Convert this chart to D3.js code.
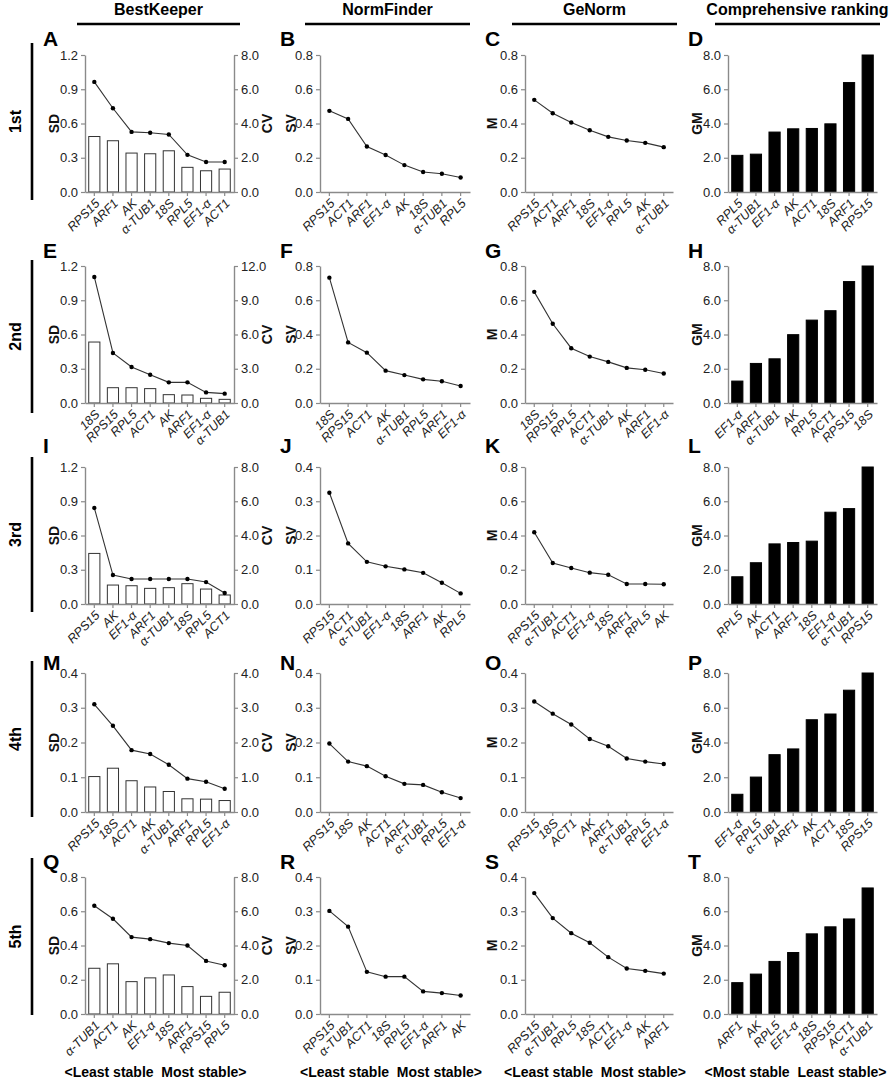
<!DOCTYPE html>
<html>
<head>
<meta charset="utf-8">
<script src="https://cdn.jsdelivr.net/npm/d3@7"></script>
<style>
  body { margin: 0; background: #fff; }
  text { font-family: Arial, "Liberation Sans", sans-serif; }
</style>
</head>
<body>
<svg id="fig"></svg>
<script>
// ---- data ----
// row 1
const genesA = ["RPS15", "ARF1", "AK", "α-TUB1", "18S", "RPL5", "EF1-α", "ACT1"];
const sdA = [0.486, 0.449, 0.341, 0.335, 0.361, 0.216, 0.186, 0.201];
const cvA = [6.43, 4.89, 3.51, 3.46, 3.36, 2.17, 1.75, 1.75];
const genesB = ["RPS15", "ACT1", "ARF1", "EF1-α", "AK", "18S", "α-TUB1", "RPL5"];
const svB = [0.474, 0.427, 0.266, 0.216, 0.157, 0.117, 0.107, 0.085];
const genesC = ["RPS15", "ACT1", "ARF1", "18S", "EF1-α", "RPL5", "AK", "α-TUB1"];
const mC = [0.538, 0.460, 0.406, 0.361, 0.322, 0.301, 0.287, 0.262];
const genesD = ["RPL5", "α-TUB1", "EF1-α", "AK", "ACT1", "18S", "ARF1", "RPS15"];
const gmD = [2.14, 2.21, 3.50, 3.69, 3.71, 3.98, 6.39, 8.0];
// row 2
const genesE = ["18S", "RPS15", "RPL5", "ACT1", "AK", "ARF1", "EF1-α", "α-TUB1"];
const sdE = [0.534, 0.134, 0.134, 0.126, 0.073, 0.070, 0.041, 0.032];
const cvE = [11.04, 4.38, 3.15, 2.48, 1.81, 1.81, 0.93, 0.82];
const genesF = ["18S", "RPS15", "ACT1", "AK", "α-TUB1", "RPL5", "ARF1", "EF1-α"];
const svF = [0.732, 0.354, 0.294, 0.189, 0.163, 0.138, 0.127, 0.099];
const genesG = ["18S", "RPS15", "RPL5", "ACT1", "α-TUB1", "AK", "ARF1", "EF1-α"];
const mG = [0.649, 0.463, 0.320, 0.271, 0.240, 0.205, 0.194, 0.172];
const genesH = ["EF1-α", "ARF1", "α-TUB1", "AK", "RPL5", "ACT1", "RPS15", "18S"];
const gmH = [1.28, 2.31, 2.58, 3.99, 4.84, 5.39, 7.09, 8.0];
// row 3
const genesI = ["RPS15", "AK", "EF1-α", "ARF1", "α-TUB1", "18S", "RPL5", "ACT1"];
const sdI = [0.443, 0.166, 0.160, 0.137, 0.143, 0.178, 0.131, 0.079];
const cvI = [5.61, 1.69, 1.46, 1.46, 1.46, 1.46, 1.28, 0.64];
const genesJ = ["RPS15", "ACT1", "α-TUB1", "EF1-α", "18S", "ARF1", "AK", "RPL5"];
const svJ = [0.325, 0.177, 0.123, 0.110, 0.101, 0.091, 0.062, 0.031];
const genesK = ["RPS15", "α-TUB1", "ACT1", "EF1-α", "18S", "ARF1", "RPL5", "AK"];
const mK = [0.419, 0.239, 0.210, 0.183, 0.171, 0.117, 0.117, 0.115];
const genesL = ["RPL5", "AK", "ACT1", "ARF1", "18S", "EF1-α", "α-TUB1", "RPS15"];
const gmL = [1.59, 2.41, 3.51, 3.59, 3.67, 5.36, 5.57, 8.0];
// row 4
const genesM = ["RPS15", "18S", "ACT1", "AK", "α-TUB1", "ARF1", "RPL5", "EF1-α"];
const sdM = [0.102, 0.126, 0.090, 0.072, 0.059, 0.038, 0.037, 0.033];
const cvM = [3.10, 2.48, 1.78, 1.67, 1.36, 0.96, 0.87, 0.67];
const genesN = ["RPS15", "18S", "AK", "ACT1", "ARF1", "α-TUB1", "RPL5", "EF1-α"];
const svN = [0.197, 0.145, 0.132, 0.103, 0.081, 0.078, 0.057, 0.040];
const genesO = ["RPS15", "18S", "ACT1", "AK", "ARF1", "α-TUB1", "RPL5", "EF1-α"];
const mO = [0.318, 0.283, 0.252, 0.210, 0.189, 0.154, 0.145, 0.138];
const genesP = ["EF1-α", "RPL5", "α-TUB1", "ARF1", "AK", "ACT1", "18S", "RPS15"];
const gmP = [1.02, 2.01, 3.30, 3.63, 5.31, 5.64, 7.01, 8.0];
// row 5
const genesQ = ["α-TUB1", "ACT1", "AK", "EF1-α", "18S", "ARF1", "RPS15", "RPL5"];
const sdQ = [0.267, 0.293, 0.189, 0.211, 0.228, 0.160, 0.103, 0.127];
const cvQ = [6.32, 5.56, 4.49, 4.37, 4.14, 4.00, 3.10, 2.85];
const genesR = ["RPS15", "α-TUB1", "ACT1", "18S", "RPL5", "EF1-α", "ARF1", "AK"];
const svR = [0.301, 0.255, 0.123, 0.109, 0.109, 0.066, 0.061, 0.054];
const genesS = ["RPS15", "α-TUB1", "RPL5", "18S", "ACT1", "EF1-α", "AK", "ARF1"];
const mS = [0.353, 0.280, 0.236, 0.208, 0.166, 0.133, 0.126, 0.118];
const genesT = ["ARF1", "AK", "RPL5", "EF1-α", "18S", "RPS15", "ACT1", "α-TUB1"];
const gmT = [1.83, 2.33, 3.07, 3.59, 4.68, 5.09, 5.55, 7.36];

const methods = ["BestKeeper", "NormFinder", "GeNorm", "Comprehensive ranking"];
const rowNames = ["1st", "2nd", "3rd", "4th", "5th"];
const footers = ["<Least stable  Most stable>", "<Least stable  Most stable>",
                 "<Least stable  Most stable>", "<Most stable  Least stable>"];

// ---- layout ----
const rowTop = [55, 266, 467, 673, 877];
const rowBot = [192, 403, 604, 812, 1014];
const colX = [[85, 234], [320, 470], [525, 673], [728, 877]];
const letterBase = [46, 258, 453, 670, 869];
const axisGrey = "#8a8a8a";
const fmt = d3.format(".1f");

const svg = d3.select("#fig").attr("width", 892).attr("height", 1080);

const panels = [
  { id: "A", col: 0, row: 0, genes: genesA, bars: sdA, line: cvA, yMax: 1.2, yStep: 0.3, y2Max: 8, y2Step: 2, title: "SD" },
  { id: "B", col: 1, row: 0, genes: genesB, line: svB, yMax: 0.8, yStep: 0.2, title: "SV" },
  { id: "C", col: 2, row: 0, genes: genesC, line: mC, yMax: 0.8, yStep: 0.2, title: "M" },
  { id: "D", col: 3, row: 0, genes: genesD, bars: gmD, yMax: 8, yStep: 2, title: "GM" },
  { id: "E", col: 0, row: 1, genes: genesE, bars: sdE, line: cvE, yMax: 1.2, yStep: 0.3, y2Max: 12, y2Step: 3, title: "SD" },
  { id: "F", col: 1, row: 1, genes: genesF, line: svF, yMax: 0.8, yStep: 0.2, title: "SV" },
  { id: "G", col: 2, row: 1, genes: genesG, line: mG, yMax: 0.8, yStep: 0.2, title: "M" },
  { id: "H", col: 3, row: 1, genes: genesH, bars: gmH, yMax: 8, yStep: 2, title: "GM" },
  { id: "I", col: 0, row: 2, genes: genesI, bars: sdI, line: cvI, yMax: 1.2, yStep: 0.3, y2Max: 8, y2Step: 2, title: "SD" },
  { id: "J", col: 1, row: 2, genes: genesJ, line: svJ, yMax: 0.4, yStep: 0.1, title: "SV" },
  { id: "K", col: 2, row: 2, genes: genesK, line: mK, yMax: 0.8, yStep: 0.2, title: "M" },
  { id: "L", col: 3, row: 2, genes: genesL, bars: gmL, yMax: 8, yStep: 2, title: "GM" },
  { id: "M", col: 0, row: 3, genes: genesM, bars: sdM, line: cvM, yMax: 0.4, yStep: 0.1, y2Max: 4, y2Step: 1, title: "SD" },
  { id: "N", col: 1, row: 3, genes: genesN, line: svN, yMax: 0.4, yStep: 0.1, title: "SV" },
  { id: "O", col: 2, row: 3, genes: genesO, line: mO, yMax: 0.4, yStep: 0.1, title: "M" },
  { id: "P", col: 3, row: 3, genes: genesP, bars: gmP, yMax: 8, yStep: 2, title: "GM" },
  { id: "Q", col: 0, row: 4, genes: genesQ, bars: sdQ, line: cvQ, yMax: 0.8, yStep: 0.2, y2Max: 8, y2Step: 2, title: "SD" },
  { id: "R", col: 1, row: 4, genes: genesR, line: svR, yMax: 0.4, yStep: 0.1, title: "SV" },
  { id: "S", col: 2, row: 4, genes: genesS, line: mS, yMax: 0.4, yStep: 0.1, title: "M" },
  { id: "T", col: 3, row: 4, genes: genesT, bars: gmT, yMax: 8, yStep: 2, title: "GM" }
];

function styleAxis(a) {
  a.attr("font-family", "Arial, 'Liberation Sans', sans-serif").attr("font-size", 13);
  a.select(".domain").attr("stroke", axisGrey).attr("stroke-width", 1.4);
  a.selectAll(".tick line").attr("stroke", axisGrey).attr("stroke-width", 1.2);
  a.selectAll(".tick text").attr("fill", "#222");
}

function vTitle(cx, cy, label) {
  svg.append("text")
    .attr("transform", `translate(${cx + 5},${cy}) rotate(-90)`)
    .attr("text-anchor", "middle")
    .attr("font-weight", "bold")
    .attr("font-size", 14)
    .attr("fill", "#111")
    .text(label);
}

function drawPanel(p) {
  const [x0, x1] = colX[p.col];
  const top = rowTop[p.row], bot = rowBot[p.row];
  const g = svg.append("g");

  const x = d3.scaleBand().domain(p.genes).range([x0, x1])
    .paddingInner(0.4).paddingOuter(0.2);
  const cx = d => x(d) + x.bandwidth() / 2;

  const y = d3.scaleLinear().domain([0, p.yMax]).range([bot, top]);
  const yTicks = d3.range(0, p.yMax + 1e-9, p.yStep);

  const ax = g.append("g")
    .attr("transform", `translate(${x0},0)`)
    .call(d3.axisLeft(y).tickValues(yTicks).tickFormat(fmt).tickSize(4).tickSizeOuter(0).tickPadding(3));
  styleAxis(ax);

  let yLine = y;
  if (p.y2Max) {
    yLine = d3.scaleLinear().domain([0, p.y2Max]).range([bot, top]);
    const ar = g.append("g")
      .attr("transform", `translate(${x1},0)`)
      .call(d3.axisRight(yLine).tickValues(d3.range(0, p.y2Max + 1e-9, p.y2Step))
        .tickFormat(fmt).tickSize(4).tickSizeOuter(0).tickPadding(3));
    styleAxis(ar);
    vTitle(x1 + 33, (top + bot) / 2, "CV");
  }

  if (p.bars) {
    const bw = x.bandwidth();
    g.selectAll("rect.bar")
      .data(p.genes)
      .join("rect")
      .attr("class", "bar")
      .attr("x", d => x(d))
      .attr("width", bw)
      .attr("y", (d, i) => y(p.bars[i]))
      .attr("height", (d, i) => bot - y(p.bars[i]))
      .attr("fill", p.col === 3 ? "#000" : "#fff")
      .attr("stroke", p.col === 3 ? "#000" : "#333")
      .attr("stroke-width", 1);
  }

  if (p.line) {
    const pts = p.genes.map((d, i) => [cx(d), yLine(p.line[i])]);
    g.append("path")
      .attr("d", d3.line()(pts))
      .attr("fill", "none")
      .attr("stroke", "#333")
      .attr("stroke-width", 1.1);
    g.selectAll("circle")
      .data(pts)
      .join("circle")
      .attr("cx", d => d[0])
      .attr("cy", d => d[1])
      .attr("r", 2.2)
      .attr("fill", "#000");
  }

  const bx = g.append("g")
    .attr("transform", `translate(0,${bot})`)
    .call(d3.axisBottom(x).tickSize(4).tickSizeOuter(0));
  styleAxis(bx);
  bx.attr("font-size", 12.5);
  bx.selectAll(".tick text")
    .attr("x", 0).attr("y", 0).attr("dy", "0.35em")
    .attr("transform", "translate(3,9) rotate(-45)")
    .attr("text-anchor", "end")
    .attr("font-style", "italic");

  const titleX = [54, 291, 492, 697][p.col];
  vTitle(titleX, (top + bot) / 2, p.title);

  svg.append("text")
    .attr("x", [43, 280, 485, 688][p.col])
    .attr("y", letterBase[p.row])
    .attr("font-weight", "bold")
    .attr("font-size", 21)
    .attr("fill", "#000")
    .text(p.id);
}

panels.forEach(drawPanel);

// column headers
const headerX = [[77, 240], [305, 470], [512, 677], [715, 880]];
methods.forEach((m, i) => {
  const [a, b] = headerX[i];
  svg.append("text")
    .attr("x", (a + b) / 2).attr("y", 14.5)
    .attr("text-anchor", "middle")
    .attr("font-weight", "bold").attr("font-size", 16)
    .text(m);
  svg.append("line")
    .attr("x1", a).attr("x2", b).attr("y1", 24).attr("y2", 24)
    .attr("stroke", "#000").attr("stroke-width", 2.6);
});

// row labels
const rowSpan = [[43, 200], [260, 413], [457, 612], [661, 817], [858, 1015]];
rowNames.forEach((r, i) => {
  const [a, b] = rowSpan[i];
  svg.append("line")
    .attr("x1", 32).attr("x2", 32).attr("y1", a).attr("y2", b)
    .attr("stroke", "#000").attr("stroke-width", 2.6);
  svg.append("text")
    .attr("transform", `translate(21,${(a + b) / 2}) rotate(-90)`)
    .attr("text-anchor", "middle")
    .attr("font-weight", "bold").attr("font-size", 16)
    .text(r);
});

// footers
footers.forEach((f, i) => {
  const [a, b] = colX[i];
  svg.append("text")
    .attr("x", (a + b) / 2 - (i === 3 ? 7 : 4)).attr("y", 1077)
    .attr("text-anchor", "middle")
    .attr("font-weight", "bold").attr("font-size", 14)
    .style("white-space", "pre")
    .text(f);
});
</script>
</body>
</html>
